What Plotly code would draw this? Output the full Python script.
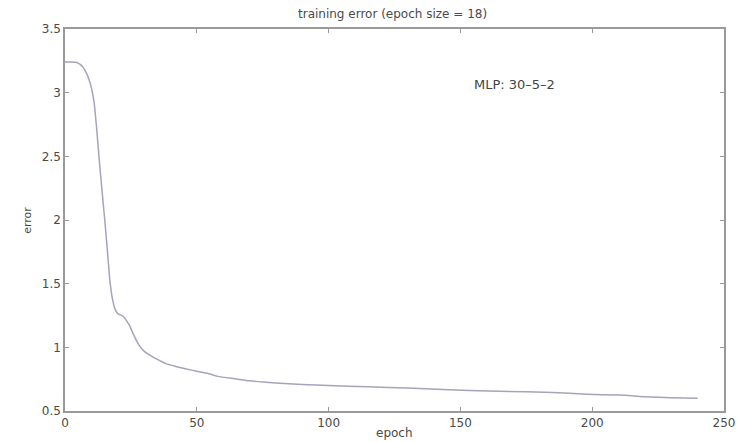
import plotly.graph_objects as go

# Data
epochs = [0, 2, 4, 5, 6, 7, 8, 9, 10, 11, 12, 13, 14, 15, 16, 17, 18, 19, 20,
          21, 22, 23, 24.5, 26, 28, 30, 32, 35, 38.5, 42, 46, 50, 55, 58, 65, 70,
          80, 90, 100, 115, 130, 148, 165, 185, 198, 210, 215, 220, 230, 240]
error = [3.24, 3.24, 3.238, 3.232, 3.218, 3.195, 3.16, 3.11, 3.04, 2.93, 2.72,
         2.47, 2.24, 2.02, 1.78, 1.53, 1.38, 1.30, 1.265, 1.255, 1.245, 1.22, 1.17,
         1.1, 1.02, 0.97, 0.94, 0.905, 0.87, 0.85, 0.83, 0.812, 0.79, 0.772, 0.752,
         0.737, 0.72, 0.708, 0.70, 0.69, 0.68, 0.665, 0.655, 0.645, 0.632, 0.625,
         0.62, 0.612, 0.605, 0.60]

x_ticks = [0, 50, 100, 150, 200, 250]
y_ticks = [0.5, 1, 1.5, 2, 2.5, 3, 3.5]
y_tick_text = ["0.5", "1", "1.5", "2", "2.5", "3", "3.5"]

title_text = "training error (epoch size = 18)"
x_label = "epoch"
y_label = "error"
note_text = "MLP: 30\u20135\u20132"

font_family = "DejaVu Sans, Liberation Sans, Arial, sans-serif"
text_color = "#4a4a4a"
axis_color = "#9a9a9a"

fig = go.Figure()
fig.add_trace(go.Scatter(
    x=epochs, y=error, mode="lines",
    line=dict(color="#a4a4bc", width=1.5, shape="spline", smoothing=0.5),
    hoverinfo="skip", showlegend=False,
))

axis_common = dict(
    showgrid=False, zeroline=False, showline=True, linecolor=axis_color,
    linewidth=1.5, mirror="ticks", ticks="inside", ticklen=4, tickcolor=axis_color,
    tickfont=dict(family=font_family, size=12, color=text_color),
)

# The page body adds an 8px offset at left/top; size the figure to compensate.
fig.update_layout(
    width=739, height=434,
    margin=dict(l=57, r=21, t=21, b=27),
    paper_bgcolor="white", plot_bgcolor="white",
    xaxis=dict(range=[0, 250], tickvals=x_ticks, **axis_common),
    yaxis=dict(range=[0.5, 3.5], tickvals=y_ticks, ticktext=y_tick_text, **axis_common),
    annotations=[
        dict(text=title_text, xref="paper", yref="paper", x=0.497, y=1.039,
             showarrow=False, xanchor="center", yanchor="middle",
             font=dict(family=font_family, size=12, color=text_color)),
        dict(text=x_label, xref="paper", yref="paper", x=0.5, y=-0.058,
             showarrow=False, xanchor="center", yanchor="middle",
             font=dict(family=font_family, size=12, color=text_color)),
        dict(text=y_label, xref="paper", yref="paper", x=-0.058, y=0.5,
             showarrow=False, xanchor="center", yanchor="middle", textangle=-90,
             font=dict(family=font_family, size=11, color=text_color)),
        dict(text=note_text, xref="x", yref="y", x=170.5, y=3.065,
             showarrow=False, xanchor="center", yanchor="middle",
             font=dict(family=font_family, size=13, color="#444444")),
    ],
)

fig.write_html("out.html")
